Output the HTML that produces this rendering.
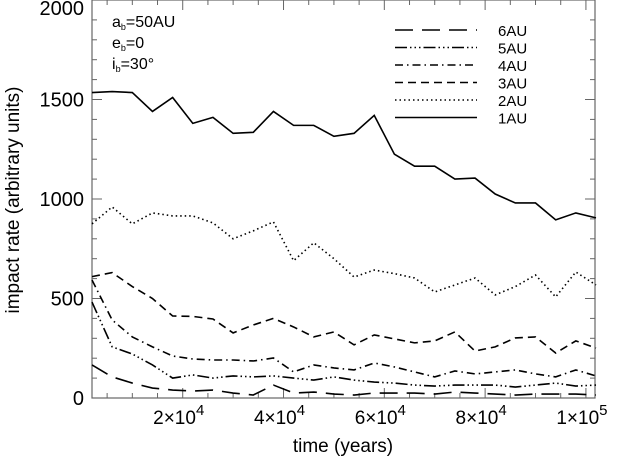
<!DOCTYPE html>
<html><head><meta charset="utf-8"><style>
html,body{margin:0;padding:0;background:#fff;width:619px;height:459px;overflow:hidden}
svg{display:block;font-family:"Liberation Sans",sans-serif}
</style></head><body>
<svg id="chart" width="619" height="459" viewBox="0 0 619 459" xmlns="http://www.w3.org/2000/svg">
<g id="axes"></g>
<g id="series"></g>
<g id="legend"></g>
<g font-size="16" fill="#000">
<text x="112" y="27">a<tspan font-size="9" dy="3">b</tspan><tspan dy="-3">=50AU</tspan></text>
<text x="112" y="48">e<tspan font-size="9" dy="3">b</tspan><tspan dy="-3">=0</tspan></text>
<text x="112" y="69">i<tspan font-size="9" dy="3">b</tspan><tspan dy="-3">=30°</tspan></text>
</g>
<text x="343" y="452" font-size="19" text-anchor="middle">time (years)</text>
<text transform="translate(19,200) rotate(-90)" font-size="19" text-anchor="middle">impact rate (arbitrary units)</text>
</svg>
<script>
const times = [2000,6000,10000,14000,18000,22000,26000,30000,34000,38000,42000,46000,50000,54000,58000,62000,66000,70000,74000,78000,82000,86000,90000,94000,98000,102000];
const au1 = [1535,1540,1535,1440,1510,1380,1410,1330,1335,1440,1370,1370,1315,1330,1420,1225,1165,1165,1100,1105,1025,980,980,895,930,905];
const au2 = [875,960,875,930,915,915,880,800,840,885,690,780,700,608,643,625,603,533,568,603,518,560,618,508,633,568];
const au3 = [610,630,560,500,412,410,397,327,367,400,357,307,332,267,317,297,277,287,332,236,257,302,307,226,287,251];
const au4 = [593,392,307,257,211,196,191,191,186,201,131,166,151,141,176,156,131,106,136,121,131,141,121,106,141,111];
const au5 = [482,257,221,166,100,116,100,111,106,111,100,90,106,90,80,75,65,60,65,65,65,55,65,75,60,65];
const au6 = [166,106,75,50,40,35,40,25,15,65,25,30,20,15,25,25,25,20,30,25,20,15,20,20,20,15];
const seriesNames = ["6AU","5AU","4AU","3AU","2AU","1AU"];
const yTickLabels = ["0","500","1000","1500","2000"];
const yTickValues = [0,500,1000,1500,2000];
const xTickValues = [20000,40000,60000,80000,100000];
const xTickMant = ["2","4","6","8","1"];
const xTickExp = ["4","4","4","4","5"];

const L=92,R=595,T=0,B=398,XMIN=2000,XMAX=102000,YMAX=2000;
const X=v=>L+(v-XMIN)/(XMAX-XMIN)*504;
const Y=v=>B-v/YMAX*(B-T);
const NS="http://www.w3.org/2000/svg";
function mk(tag,parent){const e=document.createElementNS(NS,tag);parent.appendChild(e);return e;}
const axes=document.getElementById('axes');
const frame=mk('rect',axes);


frame.setAttribute('x',L);frame.setAttribute('y',T);frame.setAttribute('width',R-L);frame.setAttribute('height',B-T);
frame.setAttribute('fill','none');frame.setAttribute('stroke','#666');frame.setAttribute('stroke-width','1.2');
// x ticks
for(let v=5000;v<=XMAX;v+=5000){
  const x=X(v); if(x<L||x>R) continue;
  const major=v%20000===0; const len=major?10:5;
  [[B,B-len],[T,T+len]].forEach(([a,b])=>{
    const t=mk('line',axes);
    
    
    t.setAttribute('x1',x);t.setAttribute('x2',x);t.setAttribute('y1',a);t.setAttribute('y2',b);t.setAttribute('stroke','#666');
  });
}
for(let v=100;v<YMAX;v+=100){
  const y=Y(v); const major=v%500===0; const len=major?10:5;
  [[L,L+len],[R,R-len]].forEach(([a,b])=>{
    const t=mk('line',axes);
    
    
    t.setAttribute('y1',y);t.setAttribute('y2',y);t.setAttribute('x1',a);t.setAttribute('x2',b);t.setAttribute('stroke','#666');
  });
}
yTickValues.forEach((v,i)=>{
  const t=mk('text',axes);
  
  
  let y=Y(v)+7; if(v===YMAX) y=Y(v)+15;
  t.setAttribute('x',L-8);t.setAttribute('y',y);t.setAttribute('text-anchor','end');t.setAttribute('font-size','20');
  t.textContent=yTickLabels[i];
});
xTickValues.forEach((v,i)=>{
  const t=mk('text',axes);
  
  
  t.setAttribute('x',X(v)-4);t.setAttribute('y',424);t.setAttribute('text-anchor','middle');t.setAttribute('font-size','19');
  t.textContent=xTickMant[i]+'×10';
  const s=mk('tspan',t);s.setAttribute('dy','-9');s.setAttribute('font-size','15');s.textContent=xTickExp[i];
});
const styles={"1AU":"","2AU":"1.5 3","3AU":"8 5","4AU":"8 4 1.5 4","5AU":"12 3 1.5 3 1.5 3 1.5 3","6AU":"18 9"};
const data={"1AU":au1,"2AU":au2,"3AU":au3,"4AU":au4,"5AU":au5,"6AU":au6};
const sg=document.getElementById('series');
seriesNames.forEach(n=>{
  const p=mk('polyline',sg);
  
  
  p.setAttribute('points',data[n].map((v,i)=>X(times[i])+','+Y(v)).join(' '));
  p.setAttribute('fill','none');p.setAttribute('stroke','#000');p.setAttribute('stroke-width','1.6');
  if(styles[n]) p.setAttribute('stroke-dasharray',styles[n]);
});
const lg=document.getElementById('legend');
seriesNames.forEach((n,i)=>{
  const y=30+i*17.5;
  const l=mk('line',lg);
  
  
  l.setAttribute('x1',395);l.setAttribute('x2',477);l.setAttribute('y1',y);l.setAttribute('y2',y);
  l.setAttribute('stroke','#000');l.setAttribute('stroke-width','1.6');
  if(styles[n]) l.setAttribute('stroke-dasharray',styles[n]);
  const t=mk('text',lg);
  
  
  t.setAttribute('x',498);t.setAttribute('y',y+6);t.setAttribute('font-size','15');
  t.textContent=n;
});
</script>
</body></html>
